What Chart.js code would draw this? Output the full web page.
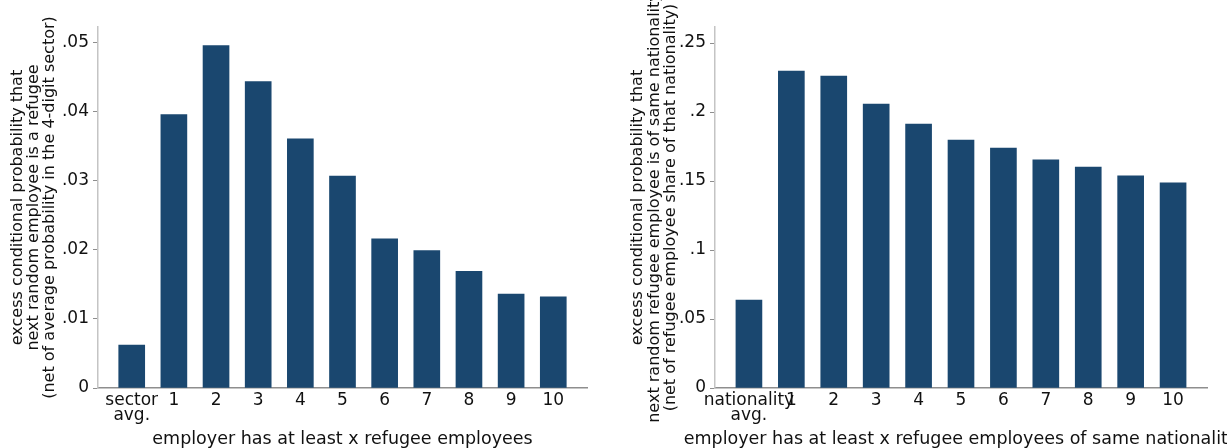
<!DOCTYPE html>
<html>
<head>
<meta charset="utf-8">
<script src="https://cdn.jsdelivr.net/npm/chart.js@4.4.1/dist/chart.umd.min.js"></script>
<style>
  html, body { margin: 0; padding: 0; background: #fff; }
  #wrap { position: relative; width: 1227px; height: 448px; overflow: hidden; }
  canvas { position: absolute; top: 0; }
  #sectorChart { left: 0; }
  #natChart { left: 613px; }
</style>
</head>
<body>
<div id="wrap">
  <canvas id="sectorChart" width="613" height="448"></canvas>
  <canvas id="natChart" width="614" height="448"></canvas>
</div>
<script>
// categories (first bar is the reference average)
const sectorCategories = [['sector', 'avg.'], '1', '2', '3', '4', '5', '6', '7', '8', '9', '10'];
const natCategories = [['nationality', 'avg.'], '1', '2', '3', '4', '5', '6', '7', '8', '9', '10'];

// excess conditional probabilities
const sectorValues = [0.0062, 0.0396, 0.0496, 0.0444, 0.0361, 0.0307, 0.0216, 0.0199, 0.0169, 0.0136, 0.0132];
const natValues = [0.0638, 0.2297, 0.2261, 0.2058, 0.1913, 0.1797, 0.1739, 0.1654, 0.1601, 0.1538, 0.1486];

// y axis ticks
const sectorTicks = [0, 0.01, 0.02, 0.03, 0.04, 0.05];
const sectorTickLabels = ['0', '.01', '.02', '.03', '.04', '.05'];
const natTicks = [0, 0.05, 0.1, 0.15, 0.2, 0.25];
const natTickLabels = ['0', '.05', '.1', '.15', '.2', '.25'];

const navy = 'rgb(26,71,111)';
const font = 'DejaVu Sans';

// axis titles drawn by hand so long lines are not squeezed to the axis length
const axisTitles = {
    id: 'axisTitles',
    afterDraw(chart, args, opts) {
        const { ctx, chartArea } = chart;
        ctx.save();
        ctx.fillStyle = '#111';
        ctx.textAlign = 'center';
        ctx.textBaseline = 'middle';
        ctx.font = '17.5px "' + font + '"';
        ctx.fillText(opts.x, (chartArea.left + chartArea.right) / 2, opts.xTitleY);
        ctx.font = '16px "' + font + '"';
        ctx.translate(opts.yTitleX, (chartArea.top + chartArea.bottom) / 2);
        ctx.rotate(-Math.PI / 2);
        opts.y.forEach((line, i) => ctx.fillText(line, 0, i * opts.lineGap));
        ctx.restore();
    }
};

function makeChart(id, cfg) {
    const ctx = document.getElementById(id).getContext('2d');
    return new Chart(ctx, {
        type: 'bar',
        data: {
            datasets: [{
                data: cfg.values.map((v, i) => ({ x: i, y: v })),
                backgroundColor: navy,
                borderWidth: 0,
                barThickness: 26
            }]
        },
        plugins: [axisTitles],
        options: {
            responsive: false,
            animation: false,
            devicePixelRatio: 1,
            layout: { padding: { top: 27, right: cfg.padRight, left: 0, bottom: 0 } },
            plugins: {
                legend: { display: false },
                tooltip: { enabled: false },
                axisTitles: {
                    x: cfg.xTitle,
                    y: cfg.yTitle,
                    xTitleY: 439,
                    yTitleX: cfg.yTitleX,
                    lineGap: cfg.lineGap
                }
            },
            scales: {
                x: {
                    type: 'linear',
                    offset: false,
                    min: -0.8,
                    max: 10.8,
                    afterBuildTicks: scale => {
                        scale.ticks = cfg.categories.map((c, i) => ({ value: i }));
                    },
                    afterFit: scale => { scale.height = 60; },
                    grid: { drawOnChartArea: false, drawTicks: false },
                    border: { display: true, color: '#8e8e8e', width: 1.5 },
                    ticks: {
                        autoSkip: false,
                        maxRotation: 0,
                        padding: 5,
                        color: '#111',
                        font: { family: font, size: 17, lineHeight: 0.9 },
                        callback: v => cfg.categories[v]
                    }
                },
                y: {
                    min: 0,
                    max: cfg.yMax,
                    afterBuildTicks: scale => {
                        scale.ticks = cfg.ticks.map(v => ({ value: v }));
                    },
                    afterFit: scale => { scale.width = cfg.yWidth; },
                    grid: { drawOnChartArea: false, drawTicks: true, tickLength: 5, tickColor: '#8e8e8e', tickWidth: 1 },
                    border: { display: true, color: '#c4c4c4', width: 1.5 },
                    ticks: {
                        padding: 4,
                        color: '#111',
                        font: { family: font, size: 17 },
                        callback: (v, i) => cfg.tickLabels[i]
                    }
                }
            }
        }
    });
}

makeChart('sectorChart', {
    categories: sectorCategories,
    values: sectorValues,
    ticks: sectorTicks,
    tickLabels: sectorTickLabels,
    yMax: 0.0523,
    yWidth: 98,
    padRight: 26,
    yTitleX: 18,
    lineGap: 15.7,
    xTitle: 'employer has at least x refugee employees',
    yTitle: ['excess conditional probability that',
             'next random employee is a refugee',
             '(net of average probability in the 4-digit sector)']
});

makeChart('natChart', {
    categories: natCategories,
    values: natValues,
    ticks: natTicks,
    tickLabels: natTickLabels,
    yMax: 0.2616,
    yWidth: 102,
    padRight: 20,
    yTitleX: 25,
    lineGap: 16.5,
    xTitle: 'employer has at least x refugee employees of same nationality',
    yTitle: ['excess conditional probability that',
             'next random refugee employee is of same nationality',
             '(net of refugee employee share of that nationality)']
});
</script>
</body>
</html>
